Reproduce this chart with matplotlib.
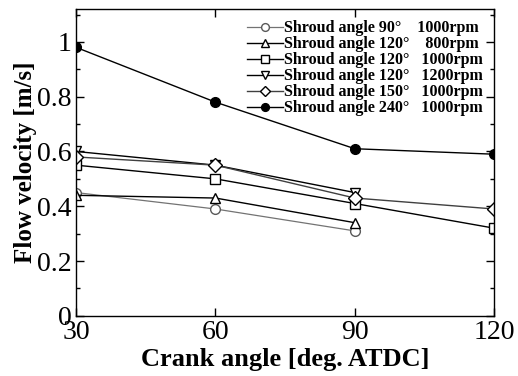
import matplotlib
matplotlib.use("Agg")
import matplotlib.pyplot as plt
from matplotlib.ticker import MultipleLocator

plt.rcParams['font.family'] = ['Liberation Serif', 'DejaVu Serif']

crank = [30, 60, 90, 120]

# 各系列の流速 [m/s]
v_90_1000 = [0.45, 0.39, 0.31]
v_120_800 = [0.44, 0.43, 0.34]
v_120_1000 = [0.55, 0.50, 0.41, 0.32]
v_120_1200 = [0.60, 0.55, 0.45]
v_150_1000 = [0.58, 0.55, 0.43, 0.39]
v_240_1000 = [0.98, 0.78, 0.61, 0.59]

labels = [
    "Shroud angle 90\u00b0    1000rpm",
    "Shroud angle 120\u00b0    800rpm",
    "Shroud angle 120\u00b0   1000rpm",
    "Shroud angle 120\u00b0   1200rpm",
    "Shroud angle 150\u00b0   1000rpm",
    "Shroud angle 240\u00b0   1000rpm",
]

fig = plt.figure(figsize=(5.18, 3.76), dpi=100)
ax = fig.add_axes([0.147, 0.16, 0.807, 0.816])

ms = 7
ax.plot(crank[:3], v_90_1000, color='0.45', lw=0.9, marker='o', ms=ms,
        mfc='white', mec='0.35', label=labels[0])
ax.plot(crank[:3], v_120_800, color='black', lw=1.0, marker='^', ms=ms,
        mfc='white', mec='black', label=labels[1])
ax.plot(crank, v_120_1000, color='black', lw=1.0, marker='s', ms=ms,
        mfc='white', mec='black', label=labels[2])
ax.plot(crank[:3], v_120_1200, color='black', lw=1.0, marker='v', ms=ms,
        mfc='white', mec='black', label=labels[3])
ax.plot(crank, v_150_1000, color='0.25', lw=1.0, marker='D', ms=ms,
        mfc='white', mec='black', label=labels[4])
ax.plot(crank, v_240_1000, color='black', lw=1.0, marker='o', ms=ms,
        mfc='black', mec='black', label=labels[5])

ax.set_xlim(30, 120)
ax.set_ylim(0, 1.12)
ax.set_xticks(crank)
ax.set_yticks([0, 0.2, 0.4, 0.6, 0.8, 1.0])
ax.set_yticklabels(['0', '0.2', '0.4', '0.6', '0.8', '1'])
ax.yaxis.set_minor_locator(MultipleLocator(0.1))
ax.tick_params(which='both', direction='in', top=True, right=True,
               labelsize=20, width=1, pad=3)
ax.tick_params(which='major', length=6)
ax.tick_params(which='minor', length=3)
for s in ax.spines.values():
    s.set_linewidth(1)

ax.set_xlabel("Crank angle [deg. ATDC]", fontsize=19, fontweight='bold', labelpad=2)
ax.set_ylabel("Flow velocity [m/s]", fontsize=18, fontweight='bold', labelpad=0)

ax.legend(loc='upper right', frameon=False, prop={'weight': 'bold', 'size': 11.5},
          handlelength=2.2, handletextpad=0.1, labelspacing=0.0,
          borderaxespad=0.3, markerscale=0.8)

fig.savefig("out.png", dpi=100)
